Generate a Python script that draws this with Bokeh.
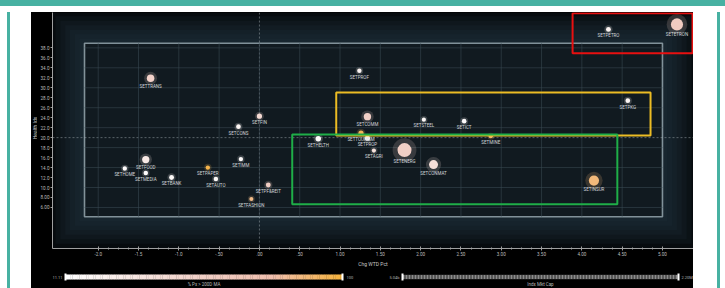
import numpy as np
from bokeh.plotting import figure
from bokeh.models import (ColumnDataSource, FixedTicker, BoxAnnotation, Span, Div, Range1d)
from bokeh.layouts import row, column
from bokeh.transform import linear_cmap
from bokeh.embed import file_html
from bokeh.resources import INLINE
from bokeh.core.properties import value

# ---------------- data ----------------
sectors = ["SETTRANS", "SETCONS", "SETFIN", "SETPROF", "SETCOMM", "SETSTEEL", "SETICT",
           "SETPKG", "SETMINE", "SETPETRO", "SETETRON", "SETHELTH", "SETTOURISM", "SETPROP",
           "SETAGRI", "SETENERG", "SETCONMAT", "SETINSUR", "SETFOOD", "SETHOME", "SETMEDIA",
           "SETBANK", "SETPAPER", "SETAUTO", "SETIMM", "SETPF&REIT", "SETFASHION"]
chg_wtd = [-1.35, -0.26, 0.00, 1.24, 1.34, 2.04, 2.54,
           4.57, 2.87, 4.33, 5.18, 0.73, 1.26, 1.34,
           1.42, 1.80, 2.16, 4.15, -1.41, -1.67, -1.41,
           -1.09, -0.64, -0.54, -0.23, 0.11, -0.10]
idx_val = [31.9, 22.2, 24.3, 33.4, 24.2, 23.6, 23.3,
           27.4, 20.3, 41.7, 42.7, 19.8, 20.9, 19.9,
           17.4, 17.5, 14.6, 11.4, 15.6, 13.8, 12.9,
           12.0, 14.0, 11.7, 15.7, 10.5, 7.7]
pct_above = [52, 20, 45, 22, 55, 18, 15,
             20, 92, 22, 60, 14, 95, 18,
             38, 55, 40, 88, 30, 14, 14,
             16, 97, 16, 15, 58, 85]
mkt_cap = [330, 30, 60, 20, 300, 10, 25,
           30, 8, 40, 1500, 80, 60, 60,
           10, 2200, 600, 900, 280, 15, 20,
           40, 15, 20, 15, 40, 8]

x_ticks = [-2.0, -1.5, -1.0, -0.5, 0.0, 0.5, 1.0, 1.5, 2.0, 2.5, 3.0, 3.5, 4.0, 4.5, 5.0]
x_tick_labels = ["-2.0", "-1.5", "-1.0", "-.50", ".00", ".50", "1.00", "1.50", "2.00",
                 "2.50", "3.00", "3.50", "4.00", "4.50", "5.00"]
y_ticks = [6, 8, 10, 12, 14, 16, 18, 20, 22, 24, 26, 28, 30, 32, 34, 36, 38]
y_tick_labels = ["6.00", "8.00", "10.0", "12.0", "14.0", "16.0", "18.0", "20.0", "22.0",
                 "24.0", "26.0", "28.0", "30.0", "32.0", "34.0", "36.0", "38.0"]
grid_y = [6, 10, 14, 18, 22, 26, 30, 34, 38]
pct_range = [11.11, 100]
cap_range_labels = ["5.04b", "2.20M"]
x_title = "Chg WTD Pct"
y_title = "Health Idx"
legend_titles = ["% Px > 200D MA", "Indx Mkt Cap"]

# ---------------- styling ----------------
FONT = "Roboto"
teal = "#47b1a2"


def lerp_palette(stops, n=256):
    pos = np.array([s[0] for s in stops])
    rgb = np.array([[int(s[1][i:i + 2], 16) for i in (1, 3, 5)] for s in stops], float)
    out = []
    for tt in np.linspace(0, 1, n):
        r = np.interp(tt, pos, rgb[:, 0]); g = np.interp(tt, pos, rgb[:, 1]); b = np.interp(tt, pos, rgb[:, 2])
        out.append("#%02x%02x%02x" % (int(r), int(g), int(b)))
    return out


palette = lerp_palette([(0.0, "#ffffff"), (0.5, "#f1cfc6"), (0.75, "#f0bfae"), (1.0, "#f6b33f")])
cmap = linear_cmap("pct", palette, pct_range[0], pct_range[1])

sizes = 3.5 + 10.5 * np.sqrt(np.array(mkt_cap) / max(mkt_cap))
src = ColumnDataSource(dict(name=sectors, x=chg_wtd, y=idx_val, pct=pct_above,
                            cap=mkt_cap, size=sizes, halo=sizes * 1.7,
                            loff=sizes / 2 + 4))

LEFT = 15   # left panel (y tick labels) width
W = 656     # width of plot column (page x 37 .. 693)

# ---------------- main figure ----------------
p = figure(width=W, height=257, x_range=Range1d(-2.567, 5.385), y_range=Range1d(-2.23, 45.09),
           output_backend="svg", toolbar_location=None,
           min_border_left=LEFT, min_border_right=0, min_border_top=0, min_border_bottom=19,
           background_fill_color="#020304", border_fill_color="black", outline_line_color=None)
p.xgrid.grid_line_color = None
p.ygrid.grid_line_color = None

# inner plot panel with glow
bx0, bx1, by0, by1 = -2.17, 5.0, 4.14, 38.93
for i in range(7, 0, -1):
    p.add_layout(BoxAnnotation(left=bx0 - i * 0.06, right=bx1 + i * 0.06,
                               bottom=by0 - i * 0.9, top=by1 + i * 0.9,
                               fill_color="#22343f", fill_alpha=0.17, line_color=None,
                               level="underlay"))
p.add_layout(BoxAnnotation(left=bx0, right=bx1, bottom=by0, top=by1,
                           fill_color="#111a20", fill_alpha=1.0, line_color="#8e9ea6",
                           line_width=1.6, line_alpha=0.9, level="underlay"))

# crosshair
p.add_layout(Span(location=0, dimension="height", line_color="#b8c4c8", line_alpha=0.55,
                  line_dash="2 2", line_width=0.8, level="underlay"))
p.add_layout(Span(location=20, dimension="width", line_color="#b8c4c8", line_alpha=0.55,
                  line_dash="2 2", line_width=0.8, level="underlay"))

# grid inside the panel
gx = [t for t in x_ticks if bx0 < t < bx1]
p.segment(x0=gx, x1=gx, y0=[by0] * len(gx), y1=[by1] * len(gx),
          line_color="#3a4a53", line_width=0.7, line_alpha=0.8)
p.segment(x0=[bx0] * len(grid_y), x1=[bx1] * len(grid_y), y0=grid_y, y1=grid_y,
          line_color="#3a4a53", line_width=0.7, line_alpha=0.8)

# highlight boxes
p.add_layout(BoxAnnotation(left=3.885, right=5.373, bottom=36.94, top=44.95,
                           fill_alpha=0, line_color="#e81010", line_alpha=1, line_width=2))
p.add_layout(BoxAnnotation(left=0.953, right=4.852, bottom=20.44, top=29.05,
                           fill_alpha=0, line_color="#ecbc24", line_alpha=1, line_width=2))
p.add_layout(BoxAnnotation(left=0.407, right=4.44, bottom=6.66, top=20.64,
                           fill_alpha=0, line_color="#1fae48", line_alpha=1, line_width=2))

# points
p.scatter("x", "y", source=src, size="halo", fill_color=cmap, fill_alpha=0.18, line_color=None)
p.scatter("x", "y", source=src, size="size", fill_color=cmap, line_color=None)
p.text("x", "y", text="name", source=src, y_offset="loff", text_align="center",
       text_baseline="middle", text_font=value(FONT), text_font_size="4.5px",
       text_color="#d2d7da")

# axes
p.xaxis.ticker = FixedTicker(ticks=x_ticks,
                             minor_ticks=[a + (b - a) * k / 4 for a, b in zip(x_ticks[:-1], x_ticks[1:]) for k in (1, 2, 3)])
p.xaxis.major_label_overrides = {t: l for t, l in zip(x_ticks, x_tick_labels)}
p.yaxis.ticker = FixedTicker(ticks=y_ticks)
p.yaxis.major_label_overrides = {t: l for t, l in zip(y_ticks, y_tick_labels)}
p.xaxis.axis_label = x_title
for ax in (p.xaxis[0], p.yaxis[0]):
    ax.axis_line_color = "#a0a0a0"
    ax.axis_line_width = 1
    ax.major_tick_line_color = "#a0a0a0"
    ax.minor_tick_line_color = "#a0a0a0"
    ax.major_label_text_color = "#bdbdbd"
    ax.major_label_text_font = FONT
    ax.major_label_text_font_size = "4.6px"
    ax.axis_label_text_color = "#c8c8c8"
    ax.axis_label_text_font = FONT
    ax.axis_label_text_font_size = "5px"
    ax.axis_label_text_font_style = "normal"
    ax.major_label_standoff = 1
    ax.axis_label_standoff = 2
p.xaxis.major_tick_in = 2
p.xaxis.major_tick_out = 2
p.xaxis.minor_tick_in = 1
p.xaxis.minor_tick_out = 1
p.yaxis.major_tick_in = 0
p.yaxis.major_tick_out = 2
p.yaxis.minor_tick_line_color = None

# ---------------- legend strip (x range in page pixels) ----------------
q = figure(width=W, height=19, x_range=Range1d(52, 693), y_range=Range1d(0, 19),
           output_backend="svg", toolbar_location=None, min_border=0, min_border_left=LEFT,
           x_axis_type=None, y_axis_type=None, background_fill_color="black",
           border_fill_color="black", outline_line_color=None)
q.xgrid.grid_line_color = None
q.ygrid.grid_line_color = None

n = 120
gx0, gx1 = 65, 342
edges = np.linspace(gx0, gx1, n + 1)
vals = np.linspace(pct_range[0], pct_range[1], n)
q.quad(left=edges[:-1], right=edges[1:] + 0.3, bottom=9, top=14,
       fill_color=[palette[int(round((v - pct_range[0]) / (pct_range[1] - pct_range[0]) * 255))] for v in vals],
       line_color=None)
q.quad(left=[gx0 - 1, gx1 - 1], right=[gx0 + 1, gx1 + 1], bottom=8, top=15,
       fill_color="white", line_color=None)

rx0, rx1 = 402, 678
q.quad(left=rx0, right=rx1, bottom=9, top=14, fill_color="#262626", line_color=None)
q.segment(x0=rx0, x1=rx1, y0=11.5, y1=11.5, line_color="#8c8c8c", line_width=4, line_dash="2 1")
q.quad(left=[rx0 - 1, rx1 - 1], right=[rx0 + 1, rx1 + 1], bottom=8, top=15,
       fill_color="white", line_color=None)

q.text(x=[gx0 - 3, rx0 - 3], y=[11.5, 11.5], text=[("%.2f" % pct_range[0]), cap_range_labels[0]],
       text_align="right", text_baseline="middle", text_font=value(FONT), text_font_size="4px",
       text_color="#b0b0b0")
q.text(x=[gx1 + 4, rx1 + 3], y=[11.5, 11.5], text=["%d" % pct_range[1], cap_range_labels[1]],
       text_align="left", text_baseline="middle", text_font=value(FONT), text_font_size="4px",
       text_color="#b0b0b0")
q.text(x=[(gx0 + gx1) / 2, (rx0 + rx1) / 2], y=[4.5, 4.5], text=legend_titles,
       text_align="center", text_baseline="middle", text_font=value(FONT), text_font_size="4.5px",
       text_color="#b8b8b8")


# ---------------- page frame (body has no margin) ----------------
def block(w, h, color):
    return Div(text="", width=w, height=h, margin=0, styles={"background-color": color})


H = 276
ytitle = Div(text=('<div style="position:absolute; left:4px; top:116px; '
                   'transform: translate(-50%, -50%) rotate(-90deg); white-space: nowrap; '
                   'font-family: Roboto; font-size: 5px; line-height: 5px; color: #c8c8c8;">'
                   + y_title + '</div>'),
             width=6, height=H, margin=0,
             styles={"background-color": "black", "position": "relative", "overflow": "visible"})

plots = column(p, q, spacing=0, styles={"background-color": "black"})
body = row(block(7, H, "white"), block(3, H, teal), block(21, H, "white"),
           ytitle, plots,
           block(24, H, "white"), block(3, H, teal), block(5, H, "white"), spacing=0)
page = column(block(725, 6, teal), block(725, 6, "white"), body, spacing=0)

open("out.html", "w").write(file_html(page, INLINE))
